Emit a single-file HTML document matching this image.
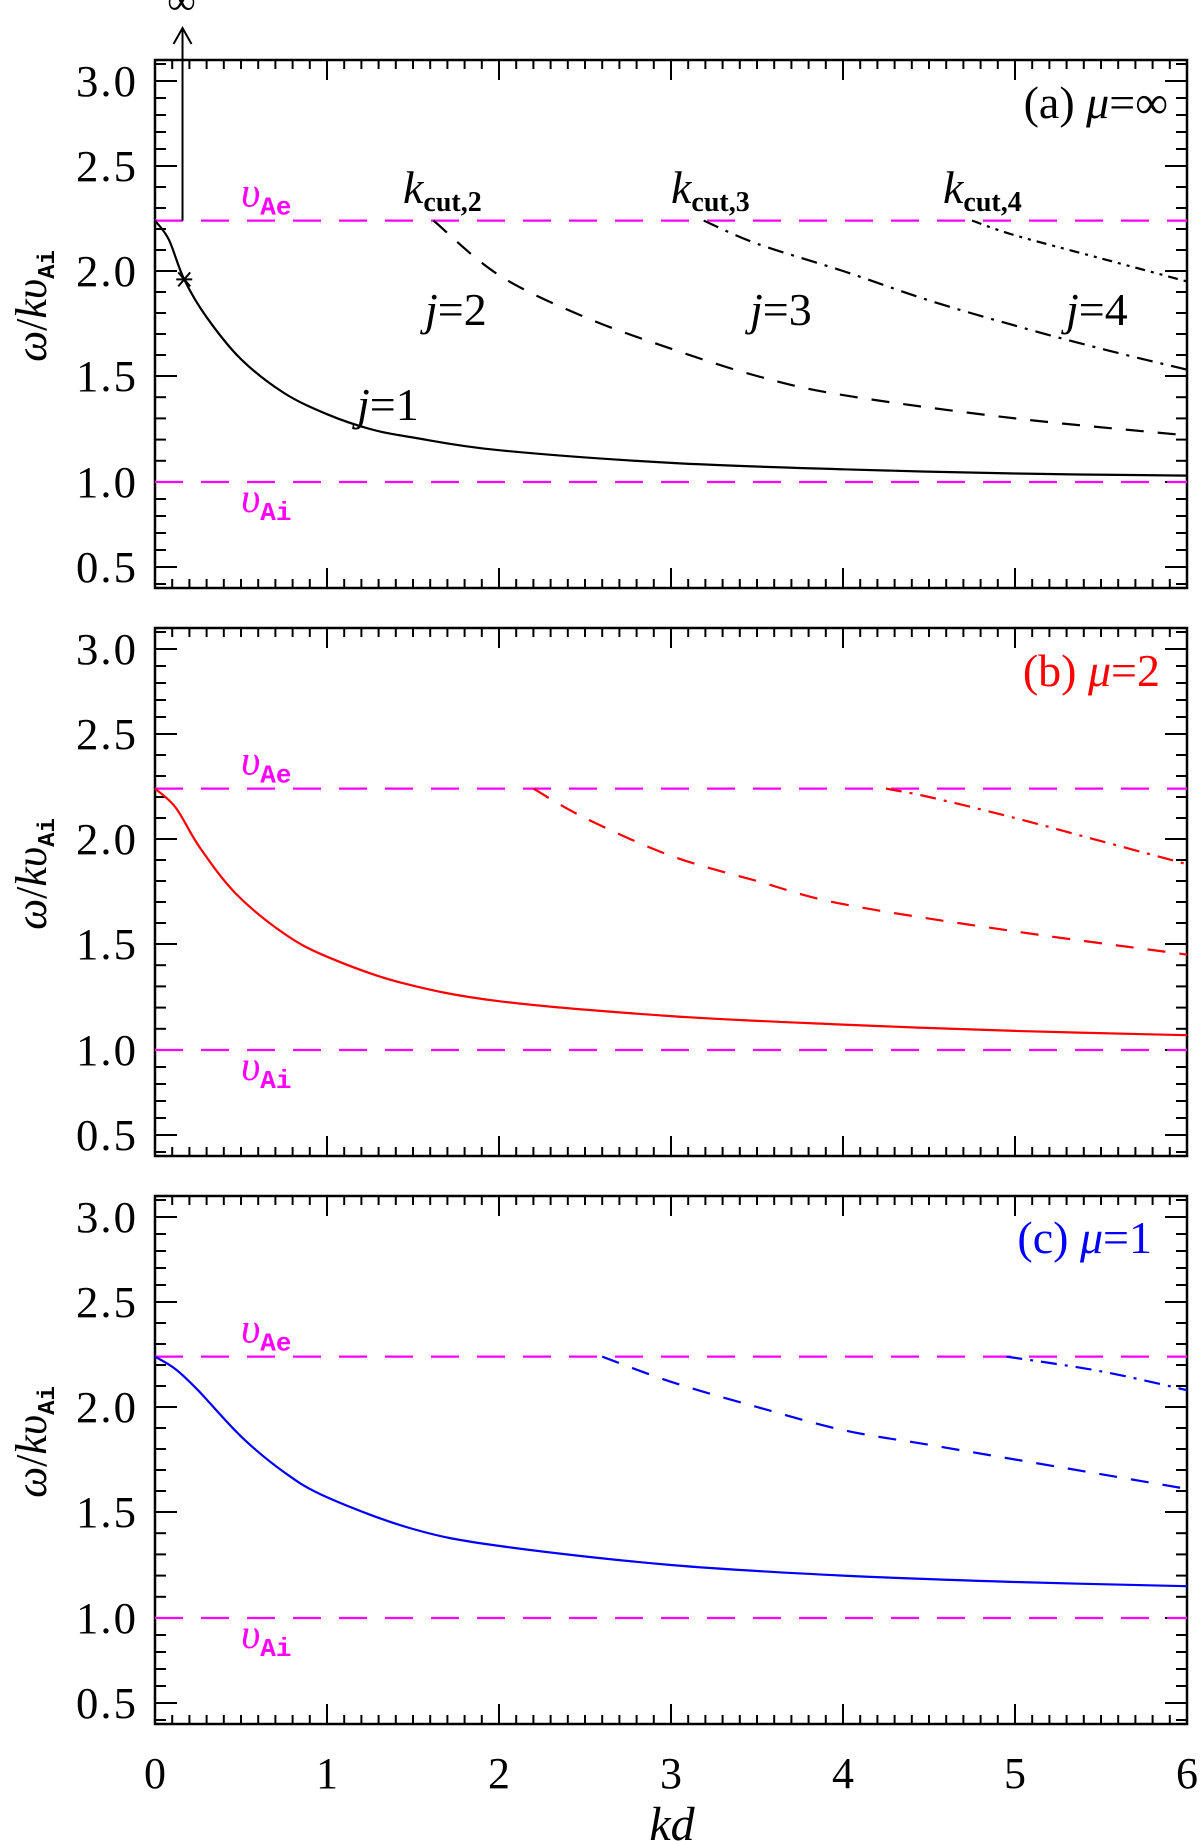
<!DOCTYPE html>
<html><head><meta charset="utf-8"><style>
html,body{margin:0;padding:0;background:#fff;}
svg{display:block;}
text{font-family:"Liberation Serif",serif;}
</style></head><body>
<svg id="chart" width="1200" height="1841" viewBox="0 0 1200 1841" xmlns="http://www.w3.org/2000/svg"></svg>
<script>
// ---- data ----
const xTicks = [0,1,2,3,4,5,6];
const yTickVals = [3.0,2.5,2.0,1.5,1.0,0.5];
const yTickLabels = ["3.0","2.5","2.0","1.5","1.0","0.5"];
const vAe = 2.24;
const vAi = 1.0;
// panel a (mu = infinity)
const aJ1x = [0,0.08,0.17,0.3,0.5,0.75,1,1.25,1.5,2,3,4,5,6];
const aJ1y = [2.24,2.15,1.96,1.78,1.58,1.42,1.32,1.25,1.21,1.15,1.09,1.06,1.04,1.03];
const aJ2x = [1.62,2,2.5,3,3.5,4,5,6];
const aJ2y = [2.24,1.98,1.78,1.63,1.5,1.41,1.3,1.22];
const aJ3x = [3.19,3.5,4,4.5,5,5.5,6];
const aJ3y = [2.24,2.13,2.0,1.86,1.74,1.63,1.53];
const aJ4x = [4.75,5,5.5,6];
const aJ4y = [2.24,2.17,2.06,1.95];
// panel b (mu = 2)
const bJ1x = [0,0.12,0.26,0.47,0.75,1,1.42,2,3,4,5,6];
const bJ1y = [2.24,2.15,1.96,1.74,1.55,1.44,1.32,1.23,1.16,1.12,1.09,1.07];
const bJ2x = [2.2,2.5,3,3.5,4,5,6];
const bJ2y = [2.24,2.1,1.92,1.8,1.69,1.56,1.45];
const bJ3x = [4.25,4.5,5,5.5,6];
const bJ3y = [2.24,2.2,2.1,1.99,1.88];
// panel c (mu = 1)
const cJ1x = [0,0.12,0.25,0.5,0.75,1,1.5,2,3,4,5,6];
const cJ1y = [2.24,2.18,2.08,1.86,1.69,1.57,1.42,1.34,1.25,1.2,1.17,1.15];
const cJ2x = [2.6,3,3.5,4,4.5,5,5.5,6];
const cJ2y = [2.24,2.12,2.0,1.89,1.82,1.75,1.68,1.61];
const cJ3x = [4.95,5.5,6];
const cJ3y = [2.24,2.17,2.08];

// ---- layout ----
const NS="http://www.w3.org/2000/svg";
const svg=document.getElementById('chart');
const X0=155, X1=1187;
const yTickRel=[21,106,211,316,422,507];
const panelTops=[60,628,1196];
const PH=528;
function xs(v){return X0+(v-0)/(6-0)*(X1-X0);}
function ys(panel,v){
  const t=panelTops[panel];
  let i=0;
  if(v>=3.0){i=0;} else if(v<=0.5){i=4;} else {
    for(i=0;i<5;i++){ if(v<=yTickVals[i]&&v>=yTickVals[i+1]) break; }
  }
  const v0=yTickVals[i],v1=yTickVals[i+1],p0=yTickRel[i],p1=yTickRel[i+1];
  return t+p0+(v-v0)/(v1-v0)*(p1-p0);
}
function el(tag,attrs,parent){const e=document.createElementNS(NS,tag);for(const k in attrs)e.setAttribute(k,attrs[k]);(parent||svg).appendChild(e);return e;}
function curvePath(panel,xa,ya){
  const p=xa.map((x,i)=>[xs(x),ys(panel,ya[i])]);
  let d="M"+p[0][0].toFixed(1)+","+p[0][1].toFixed(1);
  for(let i=0;i<p.length-1;i++){
    const p0=p[i-1]||p[i],p1=p[i],p2=p[i+1],p3=p[i+2]||p[i+1];
    const c1=[p1[0]+(p2[0]-p0[0])/6,p1[1]+(p2[1]-p0[1])/6];
    const c2=[p2[0]-(p3[0]-p1[0])/6,p2[1]-(p3[1]-p1[1])/6];
    d+=" C"+c1[0].toFixed(1)+","+c1[1].toFixed(1)+" "+c2[0].toFixed(1)+","+c2[1].toFixed(1)+" "+p2[0].toFixed(1)+","+p2[1].toFixed(1);
  }
  return d;
}
function drawCurve(panel,xa,ya,color,dash,name){
  const e=el('path',{d:curvePath(panel,xa,ya),fill:'none',stroke:color,'stroke-width':2.2});
  if(dash) e.setAttribute('stroke-dasharray',dash);
  
  
}
function txt(x,y,s,attrs,name){
  const e=el('text',Object.assign({x:x,y:y},attrs||{}));
  e.innerHTML=s;
  
  
  return e;
}

const panelNames=['a','b','c'];
for(let p=0;p<3;p++){
  const t=panelTops[p], b=t+PH;
  const g=el('g',{});
  
  
  const fr=el('rect',{x:X0,y:t,width:X1-X0,height:PH,fill:'none',stroke:'#000','stroke-width':2.5},g);
  
  
  for(let k=0;k<=60;k++){
    const v=k/10, x=xs(v), len=(k%10===0)?20:9;
    el('line',{x1:x,y1:b,x2:x,y2:b-len,stroke:'#000','stroke-width':2},g);
    el('line',{x1:x,y1:t,x2:x,y2:t+len,stroke:'#000','stroke-width':2},g);
  }
  for(let k=4;k<=31;k++){
    const v=k/10, y=ys(p,v), major=(k%5===0), len=major?22:11;
    el('line',{x1:X0,y1:y,x2:X0+len,y2:y,stroke:'#000','stroke-width':2},g);
    el('line',{x1:X1,y1:y,x2:X1-len,y2:y,stroke:'#000','stroke-width':2},g);
  }
  yTickVals.forEach((v,i)=>{
    txt(138,ys(p,v)+15,yTickLabels[i],{'font-size':44,'text-anchor':'end','letter-spacing':2,'textLength':62,'lengthAdjust':'spacingAndGlyphs'},'y-tick-label');
  });
  const la=el('line',{x1:X0,y1:ys(p,vAe),x2:X1,y2:ys(p,vAe),stroke:'#ff00ff','stroke-width':2.2,'stroke-dasharray':'28,18'},g);
  
  
  const li=el('line',{x1:X0,y1:ys(p,vAi),x2:X1,y2:ys(p,vAi),stroke:'#ff00ff','stroke-width':2.2,'stroke-dasharray':'28,18'},g);
  
  
  txt(241,ys(p,vAe)-14,'<tspan font-style="italic" font-size="42">υ</tspan><tspan font-family="Liberation Mono" font-weight="bold" font-size="26" dy="8">Ae</tspan>',{fill:'#ff00ff'},'vAe-label');
  txt(241,ys(p,vAi)+30,'<tspan font-style="italic" font-size="42">υ</tspan><tspan font-family="Liberation Mono" font-weight="bold" font-size="26" dy="8">Ai</tspan>',{fill:'#ff00ff'},'vAi-label');
  txt(0,0,'<tspan font-style="italic">ω</tspan>/<tspan font-style="italic">kυ</tspan><tspan font-size="24" font-family="Liberation Mono" font-weight="bold" dy="8">Ai</tspan>',{'font-size':44,'text-anchor':'middle',transform:'translate(46,'+(t+PH/2-18)+') rotate(-90)'},'y-axis-title');
  if(p===2){
    xTicks.forEach(v=>txt(xs(v),1788,String(v),{'font-size':44,'text-anchor':'middle'},'x-tick-label'));
    txt(672,1840,'<tspan font-style="italic">kd</tspan>',{'font-size':48,'text-anchor':'middle'},'x-axis-title');
  }
}
drawCurve(0,aJ1x,aJ1y,'#000',null,'curve-a-j1');
drawCurve(0,aJ2x,aJ2y,'#000','18,14','curve-a-j2');
drawCurve(0,aJ3x,aJ3y,'#000','16,8,3,8','curve-a-j3');
drawCurve(0,aJ4x,aJ4y,'#000','10,6,3,6,3,6','curve-a-j4');
drawCurve(1,bJ1x,bJ1y,'#ff0000',null,'curve-b-j1');
drawCurve(1,bJ2x,bJ2y,'#ff0000','18,14','curve-b-j2');
drawCurve(1,bJ3x,bJ3y,'#ff0000','16,8,3,8','curve-b-j3');
drawCurve(2,cJ1x,cJ1y,'#0000ff',null,'curve-c-j1');
drawCurve(2,cJ2x,cJ2y,'#0000ff','18,14','curve-c-j2');
drawCurve(2,cJ3x,cJ3y,'#0000ff','16,8,3,8','curve-c-j3');
const ax=xs(0.16);
const ar=el('path',{d:'M'+ax+','+ys(0,vAe)+' L'+ax+',28 M'+(ax-9)+',44 L'+ax+',28 L'+(ax+9)+',44',fill:'none',stroke:'#000','stroke-width':2});


txt(ax-1,14,'∞',{'font-size':40,'text-anchor':'middle'},'infinity-symbol');
const sx=xs(0.17), sy=ys(0,1.96);
const st=el('path',{d:`M${sx-8},${sy} L${sx+8},${sy} M${sx-6},${sy-7} L${sx+6},${sy+7} M${sx-6},${sy+7} L${sx+6},${sy-7}`,stroke:'#000','stroke-width':2});


txt(1168,118,'(a)  <tspan font-style="italic">μ</tspan>=∞',{'font-size':46,'text-anchor':'end'},'panel-a-title');
txt(1160,686,'(b)  <tspan font-style="italic">μ</tspan>=2',{'font-size':46,'text-anchor':'end',fill:'#ff0000'},'panel-b-title');
txt(1152,1253,'(c)  <tspan font-style="italic">μ</tspan>=1',{'font-size':46,'text-anchor':'end',fill:'#0000ff'},'panel-c-title');
const kcx=[403,671,943];
['2','3','4'].forEach((n,i)=>{
  txt(kcx[i],203,'<tspan font-style="italic" font-size="46">k</tspan><tspan font-size="28" font-weight="bold" dy="8">cut,'+n+'</tspan>',{},'kcut-'+n+'-label');
});
txt(357,420,'<tspan font-style="italic">j</tspan>=1',{'font-size':46},'j1-label');
txt(425,325,'<tspan font-style="italic">j</tspan>=2',{'font-size':46},'j2-label');
txt(750,325,'<tspan font-style="italic">j</tspan>=3',{'font-size':46},'j3-label');
txt(1066,325,'<tspan font-style="italic">j</tspan>=4',{'font-size':46},'j4-label');
</script>
</body></html>
